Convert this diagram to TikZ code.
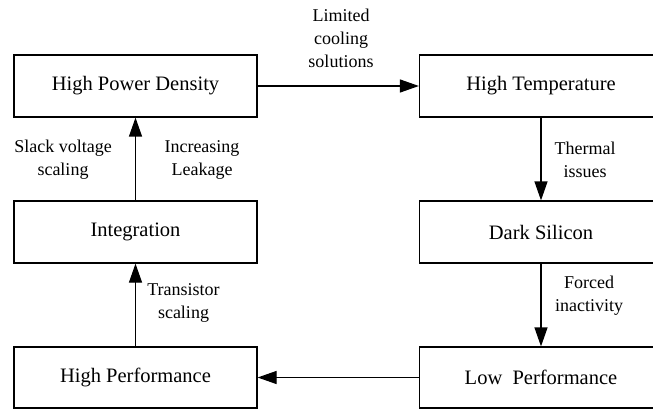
\documentclass[tikz,border=0pt]{standalone}
\usepackage{fontspec}
\setmainfont{Liberation Serif}
\usetikzlibrary{arrows.meta}
\begin{document}
\begin{tikzpicture}[x=1pt,y=-1pt,
  blk/.style={draw, line width=1.2pt, minimum width=243pt, minimum height=62pt, inner sep=0pt,
    font=\fontsize{20.5}{24}\selectfont},
  lbl/.style={align=center, inner sep=0pt, font=\fontsize{18}{23}\selectfont},
  arr/.style={line width=1.2pt, -{Triangle[length=19pt,width=13pt]}}]
\clip (0,0) rectangle (653,409);
\fill[white] (0,0) rectangle (653,409);
\node[blk] (hpd) at (135.5,86) {High Power Density};
\node[blk] (int) at (135.5,232) {Integration};
\node[blk, minimum height=61pt] (hpf) at (135.5,377.5) {High Performance};
\node[blk] (ht) at (541,86) {High Temperature};
\node[blk] (ds) at (541,232) {Dark Silicon};
\node[blk, minimum height=61pt] (lp) at (541,377.5) {Low\ \ Performance};
\draw[arr] (hpd) -- (ht);
\draw[arr] (ht) -- (ds);
\draw[arr] (ds) -- (lp);
\draw[arr] (lp) -- (hpf);
\draw[arr] (hpf) -- (int);
\draw[arr] (int) -- (hpd);
\node[lbl] (l1) at (341,38) {Limited\\cooling\\solutions};
\node[lbl] (l2) at (585,160) {Thermal\\issues};
\node[lbl] (l3) at (589,296) {Forced\\inactivity};
\node[lbl] (l4) at (183.5,303) {Transistor\\scaling};
\node[lbl] (l5) at (63,160) {Slack voltage\\scaling};
\node[lbl] (l6) at (202,160) {Increasing\\Leakage};
\end{tikzpicture}
\end{document}
